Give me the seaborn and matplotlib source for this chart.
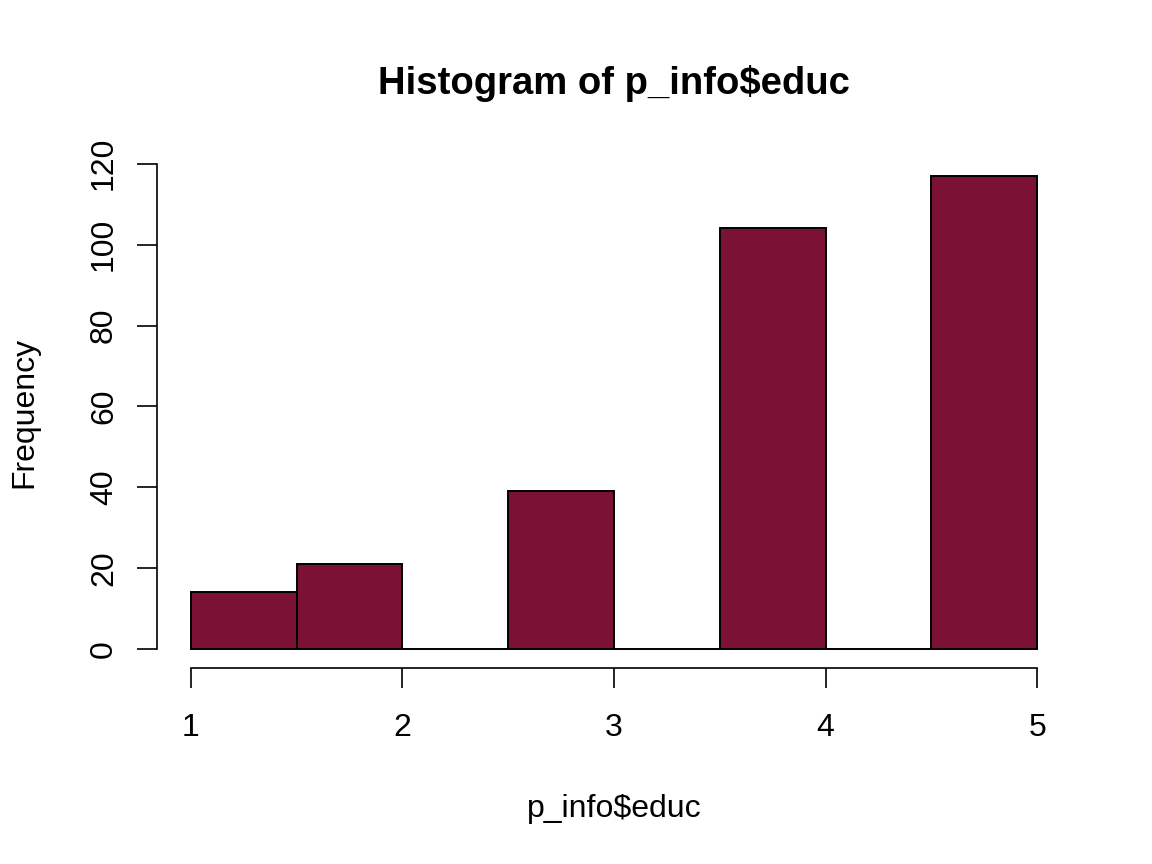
import matplotlib
matplotlib.use("Agg")
import matplotlib.pyplot as plt
import pandas as pd
import seaborn as sns

# bin edges and counts
bin_edges = [1.0, 1.5, 2.0, 2.5, 3.0, 3.5, 4.0, 4.5, 5.0]
bin_centers = [1.25, 1.75, 2.25, 2.75, 3.25, 3.75, 4.25, 4.75]
counts = [14, 21, 0, 39, 0, 104, 0, 117]
x_ticks = [1, 2, 3, 4, 5]
y_ticks = [0, 20, 40, 60, 80, 100, 120]

BAR_COLOR = "#7B1235"

sns.set_style("white")
plt.rcParams["font.family"] = ["Liberation Sans", "DejaVu Sans"]
plt.rcParams["text.color"] = "black"
plt.rcParams["axes.labelcolor"] = "black"
plt.rcParams["xtick.color"] = "black"
plt.rcParams["ytick.color"] = "black"

df = pd.DataFrame({"educ": bin_centers, "n": counts})

fig = plt.figure(figsize=(11.52, 8.64), dpi=100)
ax = fig.add_axes([157 / 1152, 1 - 668 / 864, (1071 - 157) / 1152, (668 - 157) / 864])

sns.histplot(
    data=df, x="educ", weights="n", bins=bin_edges, ax=ax,
    color=BAR_COLOR, edgecolor="black", linewidth=1.4, alpha=1,
)

ax.set_xlim(1 - 0.04 * 4, 5 + 0.04 * 4)
ax.set_ylim(-0.04 * 117, 117 * 1.04)
ax.set_xticks(x_ticks)
ax.set_yticks(y_ticks)
ax.set_yticklabels([str(v) for v in y_ticks], rotation=90, va="center")

for side in ["top", "right"]:
    ax.spines[side].set_visible(False)
ax.spines["left"].set_bounds(0, 120)
ax.spines["bottom"].set_bounds(1, 5)
for side in ["left", "bottom"]:
    ax.spines[side].set_linewidth(1.2)
    ax.spines[side].set_color("black")

ax.tick_params(axis="both", direction="out", length=14.4, width=1.2,
               color="black", labelcolor="black", labelsize=23, left=True, bottom=True)
ax.tick_params(axis="x", pad=18)
ax.tick_params(axis="y", pad=13)

ax.set_title("Histogram of p_info$educ", fontsize=27.5, fontweight="bold",
             pad=45, color="black")
ax.set_xlabel("p_info$educ", fontsize=23, labelpad=37, color="black")
ax.set_ylabel("Frequency", fontsize=23, labelpad=36, color="black")

fig.savefig("out.png", dpi=100)
